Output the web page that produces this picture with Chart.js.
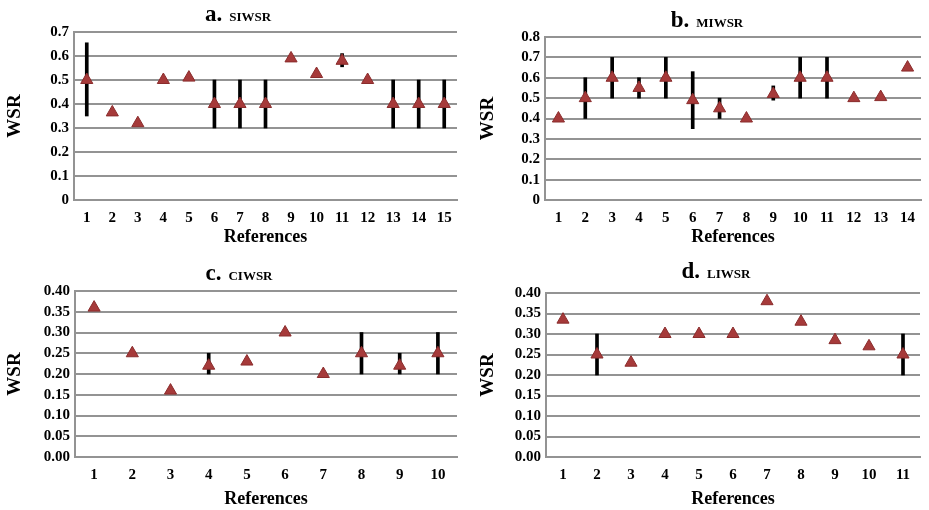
<!DOCTYPE html>
<html>
<head>
<meta charset="utf-8">
<script src="https://cdn.jsdelivr.net/npm/chart.js@4"></script>
<style>
  body { margin: 0; background: #fff; width: 929px; height: 510px; position: relative; overflow: hidden; }
  canvas { position: absolute; }
</style>
</head>
<body>
<canvas id="pa" width="465" height="255" style="left:0;top:0"></canvas>
<canvas id="pb" width="464" height="255" style="left:465px;top:0"></canvas>
<canvas id="pc" width="465" height="255" style="left:0;top:255px"></canvas>
<canvas id="pd" width="464" height="255" style="left:465px;top:255px"></canvas>
<script>
// a. SIWSR
const refsA = ["1","2","3","4","5","6","7","8","9","10","11","12","13","14","15"];
const wsrA = [0.5, 0.365, 0.32, 0.5, 0.51, 0.4, 0.4, 0.4, 0.59, 0.525, 0.58, 0.5, 0.4, 0.4, 0.4];
const lowA = [0.35, null, null, null, null, 0.3, 0.3, 0.3, null, null, 0.555, null, 0.3, 0.3, 0.3];
const highA = [0.655, null, null, null, null, 0.5, 0.5, 0.5, null, null, 0.61, null, 0.5, 0.5, 0.5];
const ticksA = [0, 0.1, 0.2, 0.3, 0.4, 0.5, 0.6, 0.7];

// b. MIWSR
const refsB = ["1","2","3","4","5","6","7","8","9","10","11","12","13","14"];
const wsrB = [0.4, 0.5, 0.6, 0.55, 0.6, 0.49, 0.45, 0.4, 0.52, 0.6, 0.6, 0.5, 0.505, 0.65];
const lowB = [null, 0.4, 0.5, 0.5, 0.5, 0.35, 0.4, null, 0.49, 0.5, 0.5, null, null, null];
const highB = [null, 0.6, 0.7, 0.6, 0.7, 0.63, 0.5, null, 0.56, 0.7, 0.7, null, null, null];
const ticksB = [0, 0.1, 0.2, 0.3, 0.4, 0.5, 0.6, 0.7, 0.8];

// c. CIWSR
const refsC = ["1","2","3","4","5","6","7","8","9","10"];
const wsrC = [0.36, 0.25, 0.16, 0.22, 0.23, 0.30, 0.20, 0.25, 0.22, 0.25];
const lowC = [null, null, null, 0.2, null, null, null, 0.2, 0.2, 0.2];
const highC = [null, null, null, 0.25, null, null, null, 0.3, 0.25, 0.3];
const ticksC = [0, 0.05, 0.10, 0.15, 0.20, 0.25, 0.30, 0.35, 0.40];

// d. LIWSR
const refsD = ["1","2","3","4","5","6","7","8","9","10","11"];
const wsrD = [0.335, 0.25, 0.23, 0.30, 0.30, 0.30, 0.38, 0.33, 0.285, 0.27, 0.25];
const lowD = [null, 0.2, null, null, null, null, null, null, null, null, 0.2];
const highD = [null, 0.3, null, null, null, null, null, null, null, null, 0.3];
const ticksD = [0, 0.05, 0.10, 0.15, 0.20, 0.25, 0.30, 0.35, 0.40];

const FONT = "'Liberation Serif', 'Times New Roman', serif";
const GRID = "#939393";

// two-size title: big "a." then small name
const titlePlugin = {
  id: "panelTitle",
  afterDraw(chart, args, o) {
    const ctx = chart.ctx;
    ctx.save();
    ctx.fillStyle = "#000";
    ctx.textBaseline = "alphabetic";
    ctx.font = "bold 23px " + FONT;
    const w1 = ctx.measureText(o.letter).width;
    ctx.font = "bold 13px " + FONT;
    const w2 = ctx.measureText(o.name).width;
    const gap = 7;
    let x = o.cx - (w1 + gap + w2) / 2;
    ctx.font = "bold 23px " + FONT;
    ctx.fillText(o.letter, x, o.baseline);
    ctx.font = "bold 13px " + FONT;
    ctx.fillText(o.name, x + w1 + gap, o.baseline);
    ctx.restore();
  }
};

function panel(id, labels, wsr, low, high, yTicks, p) {
  const bars = low.map((l, i) => (l === null ? null : [l, high[i]]));
  new Chart(document.getElementById(id).getContext("2d"), {
    data: {
      labels: labels,
      datasets: [{
        type: "line",
        data: wsr,
        showLine: false,
        pointStyle: "triangle",
        pointRadius: 7,
        pointHoverRadius: 7,
        pointBackgroundColor: "#a63a3a",
        pointBorderColor: "#8a2c2c",
        pointBorderWidth: 1,
        order: 0
      }, {
        type: "bar",
        data: bars,
        backgroundColor: "#000",
        barThickness: 3,
        order: 1
      }]
    },
    options: {
      responsive: false,
      animation: false,
      layout: { padding: { left: 0, right: p.padR, top: p.padT, bottom: p.padB } },
      plugins: {
        legend: { display: false },
        tooltip: { enabled: false },
        panelTitle: { letter: p.letter, name: p.name, cx: p.cx, baseline: p.baseline }
      },
      scales: {
        x: {
          offset: true,
          grid: { display: false, drawTicks: false },
          border: { display: true, color: GRID, width: 2 },
          ticks: { color: "#000", padding: 9, autoSkip: false, maxRotation: 0,
                   font: { family: FONT, size: 15, weight: "bold" } },
          title: { display: true, text: "References", color: "#000", padding: { top: 0, bottom: p.xtPad },
                   font: { family: FONT, size: 18, weight: "bold" } },
          afterFit: s => { s.height = p.xH; }
        },
        y: {
          min: 0,
          max: yTicks[yTicks.length - 1],
          afterBuildTicks: s => { s.ticks = yTicks.map(v => ({ value: v })); },
          grid: { color: GRID, lineWidth: 2, drawTicks: false },
          border: { display: true, color: GRID, width: 2 },
          ticks: {
            autoSkip: false,
            color: "#000",
            padding: 5,
            font: { family: FONT, size: 15, weight: "bold" },
            callback: v => (p.dec ? v.toFixed(p.dec) : (Math.round(v * 10) / 10).toString())
          },
          title: { display: true, text: "WSR", color: "#000", padding: { top: p.ytPad, bottom: 0 },
                   font: { family: FONT, size: 19, weight: "bold" } },
          afterFit: s => { s.width = p.yW; }
        }
      }
    },
    plugins: [titlePlugin]
  });
}

panel("pa", refsA, wsrA, lowA, highA, ticksA,
  { letter: "a.", name: "SIWSR", cx: 238, baseline: 21, dec: 0,
    yW: 74, padR: 8, padT: 32, padB: 5, xH: 50, xtPad: 2, ytPad: 4 });
panel("pb", refsB, wsrB, lowB, highB, ticksB,
  { letter: "b.", name: "MIWSR", cx: 242, baseline: 27, dec: 0,
    yW: 80, padR: 2, padT: 37, padB: 5, xH: 50, xtPad: 2, ytPad: 12 });
panel("pc", refsC, wsrC, lowC, highC, ticksC,
  { letter: "c.", name: "CIWSR", cx: 239, baseline: 25, dec: 2,
    yW: 75, padR: 8, padT: 36, padB: 0, xH: 53, xtPad: 0, ytPad: 4 });
panel("pd", refsD, wsrD, lowD, highD, ticksD,
  { letter: "d.", name: "LIWSR", cx: 251, baseline: 23, dec: 2,
    yW: 81, padR: 9, padT: 38, padB: 0, xH: 53, xtPad: 0, ytPad: 12 });
</script>
</body>
</html>
